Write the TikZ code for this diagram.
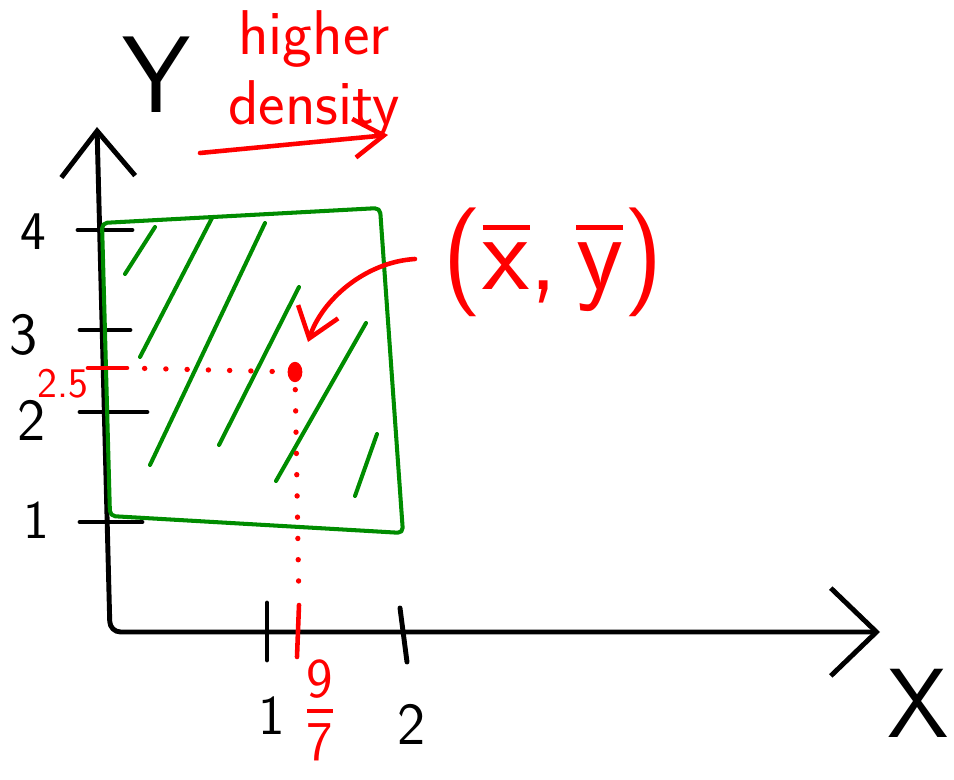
\documentclass[tikz,border=0pt]{standalone}
\usepackage{tikz}
\usetikzlibrary{arrows.meta}
\definecolor{penred}{RGB}{255,0,0}
\definecolor{pengreen}{RGB}{0,140,0}
\newcommand{\barred}[1]{\vbox{\hrule height 2.8pt\kern 7pt\hbox{#1}}}
\newcommand{\handfrac}[2]{\vbox{\halign{\hfil##\hfil\cr #1\cr\noalign{\kern 6pt\hrule height 2.4pt\kern 6pt}#2\cr}}}

\begin{document}
\begin{tikzpicture}[x=0.02cm, y=-0.02cm, line cap=round, line join=round,
  pen/.style={line width=2.8pt},
  redpen/.style={line width=2.6pt, draw=penred},
  greenpen/.style={line width=2.3pt, draw=pengreen},
  reddots/.style={line width=3pt, draw=penred, dash pattern=on 0.1pt off 12pt},
  lab/.style={font=\sffamily\fontsize{#1}{#1}\selectfont, inner sep=0pt}]
  \useasboundingbox (0,0) rectangle (954,780);

  % axes
  \draw[pen, rounded corners=6pt, {Straight Barb[length=26pt,width=42pt]}-{Straight Barb[length=26pt,width=50pt]}]
    (97,127) -- (110,632) -- (880,632);
  \node[lab=62] (ylab) at (157,75) {Y};
  \node[lab=56] (xlab) at (918,703) {X};

  % ticks on y
  \foreach \ya/\xa/\xb in {230/78/132, 330/80/130, 412/80/147, 522/80/142}
    \draw[pen] (\xa,\ya) -- (\xb,\ya);
  \node[lab=31] (y4) at (33,232) {4};
  \node[lab=34] (y3) at (24,335) {3};
  \node[lab=34] (y2) at (32,420) {2};
  \node[lab=31] (y1) at (36,520) {1};

  % ticks on x
  \draw[pen] (267,603) -- (267,660);
  \draw[pen] (400,608) -- (407,662);
  \node[lab=32] (x1) at (272,716) {1};
  \node[lab=34] (x2) at (412,724) {2};

  % uniform region
  \draw[greenpen, rounded corners=3pt] (102,223) -- (380,208) -- (403,533) -- (110,516) -- cycle;
  \foreach \xa/\ya/\xb/\yb in {125/274/155/227, 140/357/212/218, 150/465/265/223,
                               219/445/299/287, 276/481/366/323, 355/496/377/434}
    \draw[greenpen] (\xa,\ya) -- (\xb,\yb);

  % centre of mass
  \coordinate (mean) at (295,372);
  \fill[penred] (mean) ellipse [x radius=4.2pt, y radius=5.8pt];
  \coordinate (t25a) at (88,368);
  \coordinate (t25b) at (127,368);
  \coordinate (t97a) at (299,605);
  \coordinate (t97b) at (297,657);
  \draw[redpen] (t25a) -- (t25b);
  \draw[redpen] (t97a) -- (t97b);
  \draw[reddots, shorten <=10pt, shorten >=8pt] (t25b) -- (mean);
  \draw[reddots, shorten <=10pt, shorten >=6pt] (mean) -- (t97a);
  \node[lab=24, text=penred] (n25) at (63,384) {2.5};
  \node[lab=32, text=penred] (n97) at (320,710) {\handfrac{9}{7}};

  \node[lab=62, text=penred] (mlab) at (553,262) {(\barred{x},\,\barred{y})};
  \coordinate (c1) at (415,259);
  \coordinate (tip) at (308,342);
  \draw[redpen, -{Straight Barb[length=16pt,width=24pt]}] (c1) .. controls (365,262) and (322,300) .. (tip);

  % density label
  \node[lab=36, text=penred, align=center, font=\sffamily\fontsize{36}{40}\selectfont] (hd) at (314,74) {higher\\density};
  \coordinate (d0) at (200,153);
  \coordinate (d1) at (388,135);
  \draw[redpen, -{Straight Barb[length=17pt,width=22pt]}] (d0) -- (d1);
\end{tikzpicture}
\end{document}
